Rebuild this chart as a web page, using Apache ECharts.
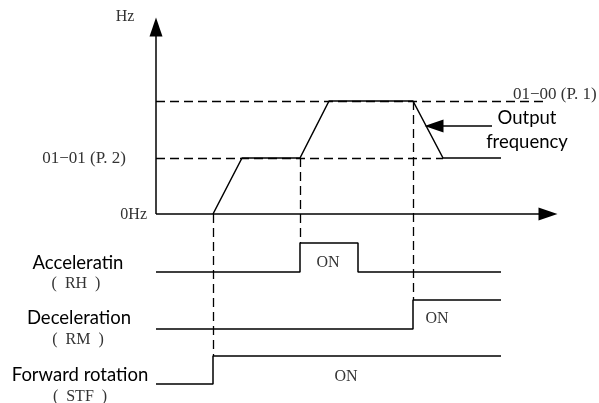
<!DOCTYPE html>
<html>
<head>
<meta charset="UTF-8">
<script src="https://cdn.jsdelivr.net/npm/echarts@6/dist/echarts.min.js"></script>
<style>
  html, body { margin: 0; background: #fff; }
  #chart { width: 599px; height: 403px; }
</style>
</head>
<body>
<div id="chart"></div>
<script>
    // waveforms: [time, row] in chart units (x = time, y = level row)
    var outputFreq = [[213, 214], [242, 158], [300, 158], [329, 101], [413, 101], [443, 158], [501, 158]];
    var accelRH = [[156, 272], [300, 272], [300, 243], [358, 243], [358, 272], [501, 272]];
    var decelRM = [[156, 329], [413, 329], [413, 300], [501, 300]];
    var fwdSTF = [[156, 384], [213, 384], [213, 356], [501, 356]];
    // dashed guide segments
    var guides = [
        [[156, 101], [548, 101]],
        [[156, 158], [443, 158]],
        [[213, 214], [213, 356]],
        [[300, 158], [300, 243]],
        [[413, 101], [413, 300]]
    ];
    // axis shafts and pointer
    var shafts = [
        [[156, 214], [548, 214]],
        [[156, 214], [156, 27]],
        [[492, 126], [434, 126]]
    ];
    // arrow heads: [x, y, rotation]
    var heads = [[548, 214, -90], [156, 27, 0], [434, 126, 90]];

    var serif = '"Liberation Serif", "Noto Sans CJK SC", serif';
    var sans = 'Lato, "Noto Sans", sans-serif';

    function txt(s, x, y, font, size, align) {
        return {
            type: 'text',
            style: {
                text: s, x: x, y: y,
                font: size + 'px ' + font,
                fill: font === serif ? '#333' : '#000',
                textAlign: align || 'center',
                textVerticalAlign: 'middle'
            }
        };
    }

    var chart = echarts.init(document.getElementById('chart'), null, { renderer: 'canvas' });

    function wave(name, data) {
        return {
            name: name,
            type: 'line',
            data: data,
            symbol: 'none',
            animation: false,
            lineStyle: { color: '#000', width: 1.5 }
        };
    }

    var option = {
        backgroundColor: '#fff',
        animation: false,
        grid: { left: 0, right: 0, top: 0, bottom: 0 },
        xAxis: { type: 'value', min: 0, max: 599, show: false },
        yAxis: { type: 'value', min: 0, max: 403, inverse: true, show: false },
        series: [
            {
                type: 'lines',
                coordinateSystem: 'cartesian2d',
                data: guides.map(function (g) { return { coords: g }; }),
                lineStyle: { color: '#000', width: 1.3, type: [9, 5], opacity: 1 },
                symbol: 'none',
                silent: true
            },
            {
                type: 'lines',
                coordinateSystem: 'cartesian2d',
                data: shafts.map(function (g) { return { coords: g }; }),
                lineStyle: { color: '#000', width: 1.5, opacity: 1 },
                symbol: 'none',
                silent: true
            },
            {
                type: 'scatter',
                data: heads.map(function (h) {
                    return { value: [h[0], h[1]], symbolRotate: h[2] };
                }),
                symbol: 'triangle',
                symbolSize: [13, 19],
                itemStyle: { color: '#000', opacity: 1 },
                silent: true
            },
            wave('Output frequency', outputFreq),
            wave('RH', accelRH),
            wave('RM', decelRM),
            wave('STF', fwdSTF)
        ],
        graphic: [
            txt('Hz', 125, 17, serif, 16),
            txt('01−00 (P. 1)', 513, 95, serif, 17, 'left'),
            txt('01−01 (P. 2)', 126, 159, serif, 17, 'right'),
            txt('0Hz', 147, 215, serif, 16, 'right'),
            txt('ON', 328, 263, serif, 16),
            txt('ON', 437, 319, serif, 16),
            txt('ON', 346, 377, serif, 16),
            txt('(  RH  )', 76, 284, serif, 16),
            txt('(  RM  )', 78, 340, serif, 16),
            txt('(  STF  )', 80, 397, serif, 16),
            txt('Output', 527, 118, sans, 18.5),
            txt('frequency', 527, 142, sans, 18.5),
            txt('Acceleratin', 78, 263, sans, 18.5),
            txt('Deceleration', 79, 318, sans, 18.5),
            txt('Forward rotation', 80, 375, sans, 18.5)
        ]
    };
    chart.setOption(option);
    window.addEventListener('resize', chart.resize);
</script>
</body>
</html>
